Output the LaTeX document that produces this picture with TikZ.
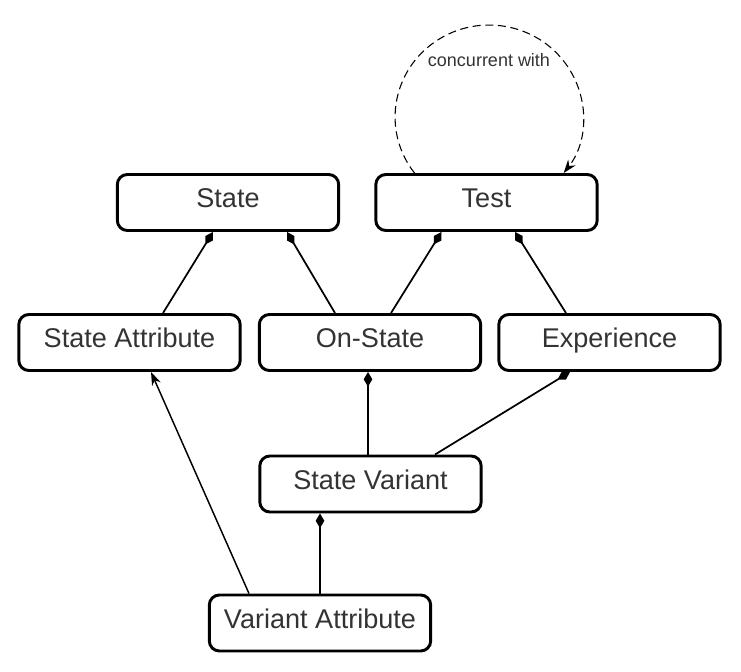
\documentclass[tikz,border=0pt]{standalone}
\usepackage{fontspec}
\setmainfont{Liberation Sans}
\usetikzlibrary{arrows.meta}
\definecolor{ink}{HTML}{333333}
\begin{document}
\begin{tikzpicture}[x=0.75pt,y=-0.75pt,
  box/.style={draw,line width=2.2pt,rounded corners=7.5pt,minimum width=166pt,minimum height=42pt,
    text height=14.5pt,text depth=6.8pt,text=ink,font=\fontsize{20.3pt}{24pt}\selectfont},
  comp/.style={line width=1.3pt,-{Diamond[length=11pt,width=6.5pt]}},
  gen/.style={line width=1.1pt,-{Stealth[length=10pt,width=7pt]}}]
  \useasboundingbox (0,0) rectangle (741,671);
  % classes
  \node[box] (state) at (228,202.5) {State};
  \node[box] (test) at (486.5,202.5) {Test};
  \node[box] (sa) at (129.5,342.5) {State Attribute};
  \node[box] (os) at (370,342.5) {On-State};
  \node[box] (exp) at (609.5,342.5) {Experience};
  \node[box] (sv) at (370.5,484) {State Variant};
  \node[box] (va) at (320,623) {Variant Attribute};
  % associations
  \draw[comp] ([shift={(33.5,0)}]sa.north) -- ([shift={(-15,0)}]state.south);
  \draw[comp] ([shift={(-35,0)}]os.north) -- ([shift={(59,0)}]state.south);
  \draw[comp] ([shift={(21,0)}]os.north) -- ([shift={(-45,0)}]test.south);
  \draw[comp] ([shift={(-43.5,0)}]exp.north) -- ([shift={(28.5,0)}]test.south);
  \draw[comp] ([shift={(-2.5,0)}]sv.north) -- ([shift={(-2,0)}]os.south);
  \draw[comp] ([shift={(64.5,0)}]sv.north) -- ([shift={(-39.5,0)}]exp.south);
  \draw[comp] (va.north) -- (va.north |- sv.south);
  \draw[gen] ([shift={(-71,0)}]va.north) -- ([shift={(21.5,0)}]sa.south);
  % self loop
  \draw[line width=0.8pt,dash pattern=on 6pt off 3.5pt,-{Stealth[length=10pt,width=7pt]}]
    ([shift={(-72,0)}]test.north) arc[start angle=142.5,end angle=397.5,x radius=94,y radius=92];
  \node[text=ink,font=\fontsize{13.5pt}{16pt}\selectfont] (lbl) at (489,60) {concurrent with};
\end{tikzpicture}
\end{document}
